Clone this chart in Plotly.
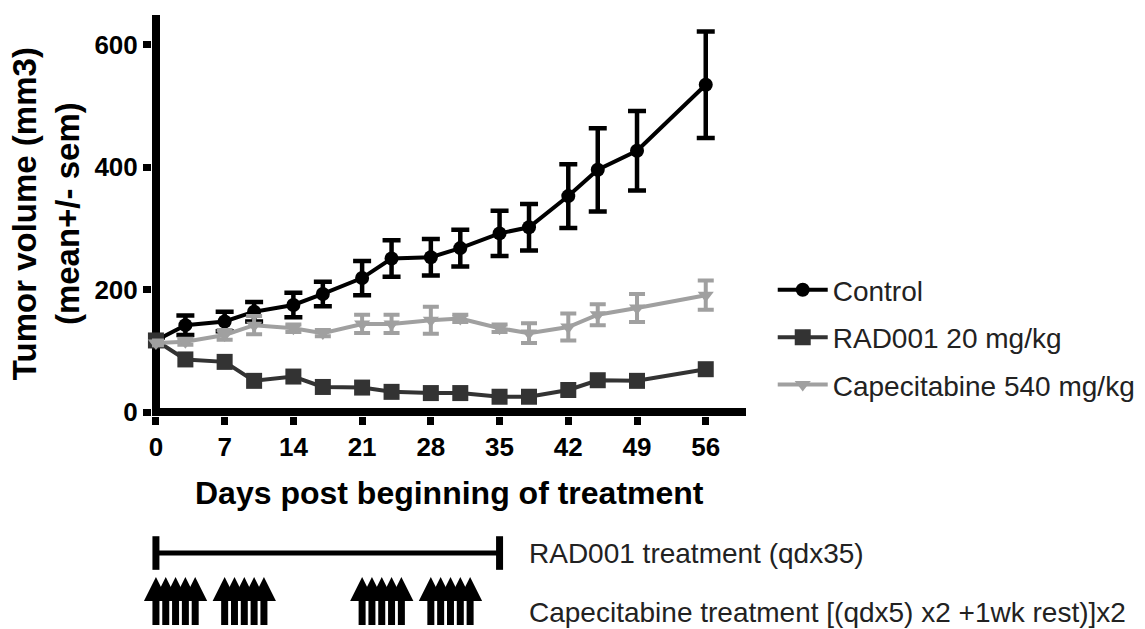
import plotly.graph_objects as go

# ---- data ----
days = [0, 3, 7, 10, 14, 17, 21, 24, 28, 31, 35, 38, 42, 45, 49, 56]

control = [117, 142, 148, 164, 175, 193, 219, 251, 253, 268, 292, 302, 353, 396, 427, 535]
control_sem = [5, 16, 16, 16, 20, 20, 28, 30, 30, 30, 37, 38, 52, 68, 65, 87]

rad001 = [117, 86, 82, 51, 58, 41, 40, 33, 31, 31, 25, 25, 36, 52, 51, 70]
rad001_sem = [5, 6, 7, 6, 7, 5, 5, 4, 4, 4, 4, 4, 5, 6, 6, 8]

cape = [113, 115, 126, 142, 137, 129, 144, 144, 150, 153, 137, 129, 139, 159, 170, 191]
cape_sem = [4, 5, 8, 15, 6, 5, 15, 15, 22, 6, 6, 16, 22, 17, 23, 24]

x_ticks = [0, 7, 14, 21, 28, 35, 42, 49, 56]
y_ticks = [0, 200, 400, 600]

rad_treatment_days = [0, 35]
cape_dose_days = [0, 1, 2, 3, 4, 7, 8, 9, 10, 11, 21, 22, 23, 24, 25, 28, 29, 30, 31, 32]

names = ["Control", "RAD001 20 mg/kg", "Capecitabine 540 mg/kg"]
labels_bottom = ["RAD001 treatment (qdx35)",
                 "Capecitabine treatment [(qdx5) x2 +1wk rest)]x2"]

FONT = "Liberation Sans, Arial, sans-serif"

fig = go.Figure()

series = [
    (control, control_sem, names[0], "#000000", "circle", 14, 9, 4.5),
    (rad001, rad001_sem, names[1], "#333333", "square", 16, 7, 4),
    (cape, cape_sem, names[2], "#a0a0a0", "triangle-down", 14, 8, 4),
]
for i, (vals, sem, nm, col, sym, msz, ew, et) in enumerate(series):
    fig.add_trace(go.Scatter(
        x=days, y=vals, name=nm, mode="lines+markers",
        line=dict(color=col, width=4),
        marker=dict(symbol=sym, size=msz, color=col, line=dict(width=0)),
        error_y=dict(type="data", array=sem, visible=True, color=col,
                     thickness=et, width=ew),
        cliponaxis=False, legendgroup=f"g{i}",
        xaxis="x", yaxis="y",
    ))

# treatment schedule panel
fig.add_trace(go.Scatter(
    x=rad_treatment_days, y=[72] * len(rad_treatment_days), mode="lines+markers",
    line=dict(color="#000000", width=5),
    marker=dict(symbol="line-ns", size=24, color="#000000",
                line=dict(color="#000000", width=7)),
    showlegend=False, xaxis="x2", yaxis="y2", cliponaxis=False,
))
fig.add_trace(go.Scatter(
    x=cape_dose_days, y=[14] * len(cape_dose_days), mode="markers",
    marker=dict(symbol="line-ns", size=20, color="#000000",
                line=dict(color="#000000", width=7)),
    showlegend=False, xaxis="x2", yaxis="y2", cliponaxis=False,
))
fig.add_trace(go.Scatter(
    x=cape_dose_days, y=[48] * len(cape_dose_days), mode="markers",
    marker=dict(symbol="arrow-up", size=24, color="#000000",
                line=dict(width=0)),
    showlegend=False, xaxis="x2", yaxis="y2", cliponaxis=False,
))

XR = [-0.4, 60.1]
fig.update_layout(
    width=1145, height=629,
    margin=dict(l=152, r=399, t=15, b=4, autoexpand=False),
    paper_bgcolor="white", plot_bgcolor="white",
    font=dict(family=FONT, color="#000000"),
    xaxis=dict(range=XR, domain=[0, 1], anchor="y",
               tickvals=x_ticks, ticks="outside", ticklen=8, tickwidth=7,
               tickcolor="black", showgrid=False, showline=False,
               zeroline=True, zerolinecolor="black", zerolinewidth=8,
               tickfont=dict(size=26, family=FONT, color="black", weight="bold")),
    yaxis=dict(range=[-6.5, 649], domain=[0.3426, 1], anchor="x",
               tickvals=y_ticks, ticks="outside", ticklen=8, tickwidth=7,
               tickcolor="black", showgrid=False, showline=False,
               zeroline=True, zerolinecolor="black", zerolinewidth=8,
               tickfont=dict(size=26, family=FONT, color="black", weight="bold")),
    xaxis2=dict(range=XR, domain=[0, 1], anchor="y2", visible=False),
    yaxis2=dict(range=[0, 85], domain=[0, 0.1393], anchor="x2", visible=False),
    showlegend=True,
    legend=dict(x=1.045, xanchor="left", y=0.59, yanchor="top",
                xref="paper", yref="paper",
                font=dict(size=28, family=FONT, color="#222222"),
                tracegroupgap=8, itemwidth=50, bgcolor="rgba(0,0,0,0)"),
    annotations=[
        dict(text="Tumor volume (mm3)<br>(mean+/- sem)", textangle=-90,
             x=-0.1785, y=0.675, xref="paper", yref="paper",
             xanchor="center", yanchor="middle", showarrow=False,
             font=dict(size=33, family=FONT, color="black", weight="bold")),
        dict(text="Days post beginning of treatment",
             x=0.5, y=0.216, xref="paper", yref="paper",
             xanchor="center", yanchor="middle", showarrow=False,
             font=dict(size=32, family=FONT, color="black", weight="bold")),
        dict(text=labels_bottom[0], x=0.631, y=0.118, xref="paper", yref="paper",
             xanchor="left", yanchor="middle", showarrow=False,
             font=dict(size=28, family=FONT, color="#222222")),
        dict(text=labels_bottom[1], x=0.631, y=0.021, xref="paper", yref="paper",
             xanchor="left", yanchor="middle", showarrow=False,
             font=dict(size=28, family=FONT, color="#222222")),
    ],
)

fig.write_html("out.html", config={"displayModeBar": False},
               post_script="document.body.style.margin='0';document.body.style.overflow='hidden';")
